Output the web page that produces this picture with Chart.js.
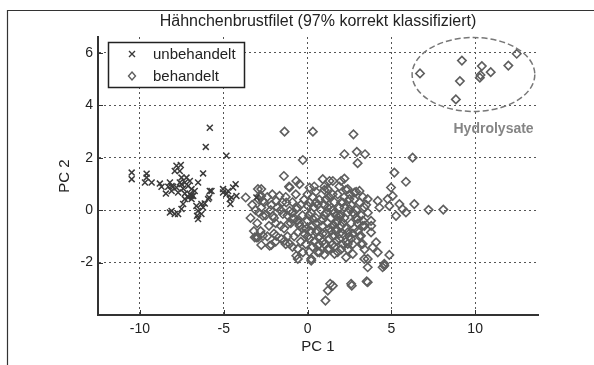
<!DOCTYPE html>
<html>
<head>
<meta charset="utf-8">
<script src="https://cdn.jsdelivr.net/npm/chart.js@4.4.0/dist/chart.umd.min.js"></script>
<style>
html,body{margin:0;padding:0;background:#fff;}
#wrap{width:594px;height:365px;}
</style>
</head>
<body>
<div id="wrap"><canvas id="pca" width="594" height="365"></canvas></div>
<script>
// tick values
const xTicks = [-10, -5, 0, 5, 10];
const yTicks = [-2, 0, 2, 4, 6];

// unbehandelt (x markers)
const untreatedX = [-6.07,-5.83,-4.84,-10.49,-10.49,-9.6,-9.6,-9.7,-9.3,-8.81,-8.71,-7.92,-7.62,-7.56,-7.82,-6.23,-6.53,-8.31,-8.02,-7.82,-7.52,-7.42,-8.45,-8.11,-7.72,-7.32,-7.02,-6.82,-7.12,-6.92,-7.32,-7.42,-7.52,-8.21,-7.92,-7.72,-6.63,-6.53,-6.59,-6.53,-6.33,-6.33,-6.13,-5.93,-5.83,-5.87,-6.23,-5.04,-4.74,-4.29,-4.44,-4.24,-4.54,-4.60,-4.84,-7.12,-6.92,-6.73,-7.02,-7.32,-7.62,-8.11,-8.21,-7.52,-7.22,-6.92,-5.73,-3.05,-5.04,-4.64,-8.11];
const untreatedY = [2.41,3.14,2.07,1.43,1.18,1.39,1.24,1.05,1.05,1.01,0.89,1.49,1.49,1.72,1.69,1.40,1.05,0.89,0.89,0.86,0.99,0.82,0.63,0.73,0.67,0.63,0.61,0.54,0.48,0.42,0.42,0.23,0.04,-0.09,-0.15,-0.15,0.16,-0.03,-0.22,-0.34,-0.15,0.23,0.25,0.42,0.73,0.48,0.10,0.80,0.73,0.99,0.86,0.54,0.48,0.23,0.61,0.92,0.80,0.73,1.11,1.05,1.05,0.92,1.05,1.24,1.24,0.54,0.73,0.48,0.67,0.42,-0.03];

// behandelt (diamonds), main cluster
const treatedX = [-1.37,0.32,-0.28,-1.41,-0.67,-0.48,-1.07,0.12,0.91,1.31,1.01,-3.69,-2.76,-2.86,-2.66,-2.16,-1.67,-1.86,-1.27,-2.76,-2.66,-2.07,-1.47,-1.07,-0.67,-0.87,-1.17,-0.48,-0.58,-3.15,-2.66,-2.76,-2.16,-1.86,-1.57,-1.07,-0.58,-0.67,-0.28,0.22,0.71,0.61,1.31,0.12,-0.08,0.52,1.51,1.21,1.07,0.02,0.52,1.11,1.41,0.32,0.91,1.51,1.71,
  1.35,2.64,3.53,3.59,4.48,4.58,4.88,4.09,3.39,-2.96,-2.26,-0.58,0.22,
  2.74,2.20,2.94,3.43,2.99,6.27,5.18,5.87,4.98,1.51,2.0,2.20,2.30,2.80,3.10,3.59,4.19,4.29,4.78,5.08,4.88,5.48,5.67,5.28,5.87,6.37,7.22,8.10,3.79,3.29,3.79,3.19,3.29,3.89,4.19,4.58,3.59,2.70,1.61,2.40,1.71,2.60,3.59,2.5,2.80,1.90,2.10,2.99,1.71,2.40,2.5,3.10,2.10,3.39,
  -2.96,-2.76,-3.05,-1.37,
  0.2,0.5,0.8,1.0,1.2,1.4,1.6,1.8,2.0,2.2,2.4,2.6,2.8,3.0,0.3,0.6,0.9,1.1,1.3,1.5,1.7,1.9,2.1,2.3,2.5,2.7,0.4,0.7,1.0,1.3,1.6,2.0,0.1,0.4,0.7,1.0,1.3,1.6,1.9,2.2,2.6,2.9,3.2,3.4,3.1,-0.3,-0.5,-0.2,-0.4,-0.1,0.0,0.5,1.2,1.8,2.4,-0.8,-0.9,-1.3,-1.6,-1.9,-2.3,-2.4,-2.9,-3.3,-3.0,-1.4,-0.8,
  -0.9,-0.6,-0.3,0.0,0.3,0.6,0.9,1.2,1.5,1.8,2.1,2.4,2.7,3.0,3.3,3.6,3.5,3.8,2.8,2.5,2.0,1.5,1.1,0.6,0.3,-0.2,-0.6,-1.0,-1.2,-1.5,-1.8,-2.0,-2.2,-2.5,-2.6,-3.1,-3.4,-2.8,-2.4,-1.9,-1.6,-1.2,-0.9,-0.4,0.0,0.2,0.5,0.8,1.1,1.4,1.7,2.0,2.3,2.6,2.9,3.2,1.2,0.9,1.9,1.5,0.1,0.7,2.2,2.7,-0.7,-1.1,0.4,1.0,1.9,2.9,3.3,-2.1,-2.9,-3.2,-2.0,-1.3,0.1,1.0,2.3,3.4];
const treatedY = [2.99,2.99,1.91,1.30,1.11,0.99,0.86,0.86,1.18,1.11,0.77,0.48,0.80,0.54,0.35,0.19,0.54,0.35,0.29,0.10,-0.22,-0.22,-0.15,-0.03,0.04,-0.34,-0.53,-0.60,-0.85,-1.04,-0.98,-1.33,-1.33,-0.98,-1.10,-1.29,-1.48,-1.74,-1.61,-1.86,-1.61,-1.36,-1.48,-1.10,-0.72,-0.85,-2.88,-3.07,-3.45,0.16,0.29,0.42,0.10,-0.34,-0.34,-0.60,-0.22,
  -2.81,-2.88,-2.72,-2.18,-2.18,-2.05,-1.71,-1.23,-1.86,-1.04,-1.36,-1.86,-1.93,
  2.89,2.13,2.22,2.13,1.79,2.00,1.43,1.08,0.86,1.11,1.11,1.20,0.77,0.67,0.73,0.42,0.35,0.10,0.42,0.54,0.16,0.23,0.04,-0.22,-0.09,0.23,0.01,0.02,-0.41,-0.60,-0.85,-0.98,-1.29,-1.42,-1.61,-2.12,-1.86,-1.67,-1.67,-1.29,-1.17,-2.81,-2.75,0.04,-0.15,-0.22,-0.47,-0.34,-0.72,-0.85,0.42,0.29,0.29,0.10,
  0.80,0.54,-1.04,-1.17,
  -0.1,-0.3,0.0,-0.2,-0.5,-0.3,-0.1,-0.4,-0.6,-0.3,-0.1,-0.5,-0.7,-0.5,-0.6,-0.8,-0.6,-0.9,-0.7,-1.0,-0.8,-1.1,-0.9,-1.2,-1.0,-1.3,-1.2,-1.0,-1.3,-1.1,-1.4,-1.5,0.3,0.1,0.4,0.2,0.5,0.3,0.1,0.5,0.2,0.0,-0.2,-0.6,-1.0,-0.2,-0.5,-0.9,0.2,-1.3,0.6,0.7,0.8,0.6,0.8,-1.0,0.3,0.5,0.0,-0.5,-0.6,0.5,-0.1,0.2,-0.5,-0.7,-0.3,
  -0.1,-0.4,-0.7,-1.0,-1.4,-1.6,-1.2,-1.5,-1.3,-1.6,-1.3,-1.5,-0.9,-0.8,-0.4,-0.1,0.2,-0.6,0.4,0.6,0.3,0.6,0.4,0.2,0.5,0.4,0.1,-0.5,-0.2,0.3,0.1,-0.3,0.0,-0.2,0.3,0.0,-0.3,-0.8,-1.0,-1.2,-0.6,-1.0,-1.4,-1.2,-0.4,-0.8,-0.5,-0.4,-0.1,-0.8,-0.5,-0.2,-0.7,-1.1,-0.3,-1.3,0.1,-0.9,-0.9,0.0,-0.2,-1.3,0.1,-0.1,0.6,0.9,0.9,0.9,0.9,0.7,0.5,0.6,0.4,-0.8,-0.9,-1.3,-1.6,-1.7,-1.8,-1.5];

// behandelt, Hydrolysate group (upper right)
const hydroX = [12.48,9.21,10.40,11.98,10.93,10.28,10.32,9.09,8.85,6.71];
const hydroY = [5.96,5.70,5.49,5.51,5.26,5.05,5.15,4.92,4.22,5.21];

const toPoints = (xs, ys) => xs.map((x, i) => ({x: x, y: ys[i]}));

const FONT = 'Liberation Sans, Arial, sans-serif';
const TITLE = 'Hähnchenbrustfilet (97% korrekt klassifiziert)';

const framePlugin = {
  id: 'frame',
  beforeDraw(chart) {
    const c = chart.ctx;
    c.save();
    c.fillStyle = '#fff';
    c.fillRect(0, 0, chart.width, chart.height);
    c.strokeStyle = '#333';
    c.lineWidth = 1.2;
    c.beginPath();
    c.moveTo(7.5, chart.height + 5);
    c.lineTo(7.5, 10.5);
    c.lineTo(chart.width + 5, 10.5);
    c.stroke();
    // title, centred over the axes like matlab does
    const a = chart.chartArea;
    c.fillStyle = '#222';
    c.font = '16px ' + FONT;
    c.textAlign = 'center';
    c.textBaseline = 'middle';
    c.fillText(TITLE, (a.left + a.right) / 2, 22);
    c.restore();
  }
};

// short solid ticks pointing inward, matlab style
const innerTicks = {
  id: 'innerTicks',
  afterDraw(chart) {
    const c = chart.ctx, a = chart.chartArea;
    const xs = chart.scales.x, ys = chart.scales.y;
    c.save();
    c.strokeStyle = '#333';
    c.lineWidth = 1;
    c.beginPath();
    xTicks.forEach(v => {
      const px = Math.round(xs.getPixelForValue(v)) + 0.5;
      c.moveTo(px, a.bottom); c.lineTo(px, a.bottom - 5);
    });
    yTicks.forEach(v => {
      const py = Math.round(ys.getPixelForValue(v)) + 0.5;
      c.moveTo(a.left, py); c.lineTo(a.left + 5, py);
    });
    c.stroke();
    c.restore();
  }
};

const hydroMark = {
  id: 'hydroMark',
  afterDatasetsDraw(chart) {
    const c = chart.ctx;
    const xs = chart.scales.x, ys = chart.scales.y;
    const cx = xs.getPixelForValue(9.9), cy = ys.getPixelForValue(5.17);
    const rx = xs.getPixelForValue(9.9 + 3.66) - cx;
    const ry = cy - ys.getPixelForValue(5.17 + 1.41);
    c.save();
    c.strokeStyle = '#777';
    c.lineWidth = 1.5;
    c.setLineDash([6, 3]);
    c.beginPath();
    c.ellipse(cx, cy, rx, ry, 0, 0, Math.PI * 2);
    c.stroke();
    c.setLineDash([]);
    c.fillStyle = '#858585';
    c.font = 'bold 14px ' + FONT;
    c.textAlign = 'center';
    c.textBaseline = 'middle';
    c.fillText('Hydrolysate', xs.getPixelForValue(11.1), ys.getPixelForValue(3.1));
    c.restore();
  }
};

const legendBox = {
  id: 'legendBox',
  afterDraw(chart) {
    const c = chart.ctx;
    const ds = chart.data.datasets;
    const x0 = 108.5, y0 = 42.5, w = 136, h = 45;
    c.save();
    c.fillStyle = '#fff';
    c.fillRect(x0, y0, w, h);
    c.strokeStyle = '#222';
    c.lineWidth = 1.5;
    c.strokeRect(x0, y0, w, h);
    c.font = '15px ' + FONT;
    c.textBaseline = 'middle';
    c.textAlign = 'left';
    ds.forEach((d, i) => {
      const my = 54 + i * 22, mx = 132;
      c.strokeStyle = d.borderColor;
      c.lineWidth = 1.4;
      c.beginPath();
      if (d.pointStyle === 'crossRot') {
        c.moveTo(mx - 3, my - 3); c.lineTo(mx + 3, my + 3);
        c.moveTo(mx + 3, my - 3); c.lineTo(mx - 3, my + 3);
      } else {
        c.moveTo(mx, my - 4); c.lineTo(mx + 3.5, my);
        c.lineTo(mx, my + 4); c.lineTo(mx - 3.5, my); c.closePath();
      }
      c.stroke();
      c.fillStyle = '#222';
      c.fillText(d.label, 153, my + 1);
    });
    c.restore();
  }
};

new Chart(document.getElementById('pca'), {
  type: 'scatter',
  data: {
    datasets: [
      {
        label: 'unbehandelt',
        data: toPoints(untreatedX, untreatedY),
        pointStyle: 'crossRot',
        pointRadius: 4.2,
        borderColor: '#3a3a3a',
        pointBorderWidth: 1.5,
        backgroundColor: 'rgba(0,0,0,0)'
      },
      {
        label: 'behandelt',
        data: toPoints(treatedX.concat(hydroX), treatedY.concat(hydroY)),
        pointStyle: 'rectRot',
        pointRadius: 4.2,
        borderColor: '#5e5e5e',
        pointBorderWidth: 1.6,
        backgroundColor: 'rgba(0,0,0,0)'
      }
    ]
  },
  options: {
    responsive: false,
    animation: false,
    events: [],
    layout: { padding: { left: 0, right: 56, top: 37, bottom: 0 } },
    plugins: {
      legend: { display: false },
      tooltip: { enabled: false },
      title: { display: false }
    },
    scales: {
      x: {
        type: 'linear',
        min: -12.5,
        max: 13.75,
        afterFit(s) { s.height = 50; },
        afterBuildTicks(s) { s.ticks = xTicks.map(v => ({value: v})); },
        grid: { color: '#555', lineWidth: 1, drawTicks: false },
        border: { display: true, color: '#333', width: 2, dash: [2, 3] },
        ticks: { color: '#222', padding: 6, font: { family: FONT, size: 14 } },
        title: { display: true, text: 'PC 1', color: '#222', font: { family: FONT, size: 15, lineHeight: 1.2 }, padding: { top: 0, bottom: 9 } }
      },
      y: {
        type: 'linear',
        min: -4,
        max: 6.6,
        afterFit(s) { s.width = 98; },
        afterBuildTicks(s) { s.ticks = yTicks.map(v => ({value: v})); },
        grid: { color: '#555', lineWidth: 1, drawTicks: false },
        border: { display: true, color: '#333', width: 2, dash: [2, 3] },
        ticks: { color: '#222', padding: 5, font: { family: FONT, size: 14 } },
        title: { display: true, text: 'PC 2', color: '#222', font: { family: FONT, size: 15, lineHeight: 1.2 }, padding: { top: 56, bottom: 0 } }
      }
    }
  },
  plugins: [framePlugin, innerTicks, hydroMark, legendBox]
});
</script>
</body>
</html>
